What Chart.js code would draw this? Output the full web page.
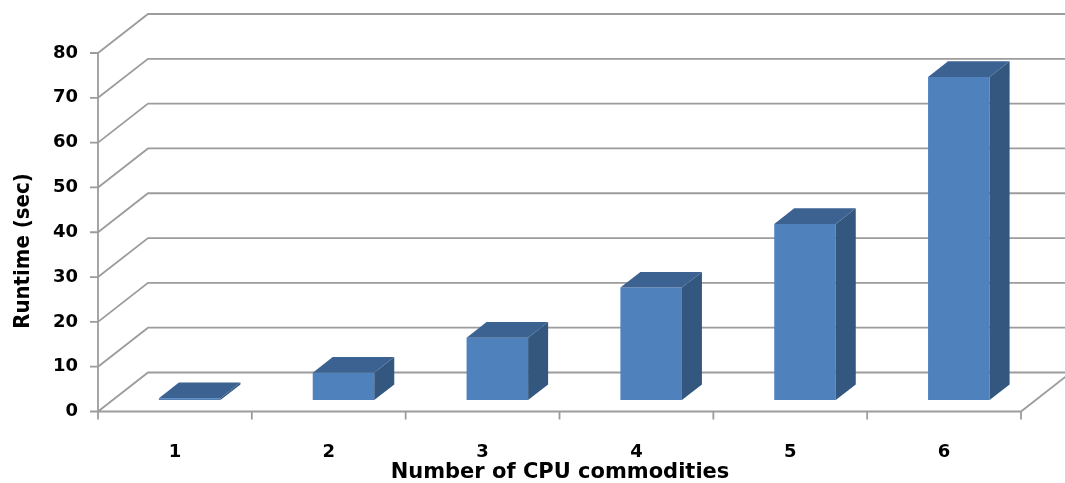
<!DOCTYPE html>
<html>
<head>
<meta charset="utf-8">
<script src="https://cdn.jsdelivr.net/npm/chart.js@4"></script>
<style>
  html, body { margin: 0; padding: 0; background: #fff; }
  #wrap { width: 1065px; height: 483px; }
</style>
</head>
<body>
<div id="wrap"><canvas id="runtimeChart" width="1065" height="483"></canvas></div>
<script>
const categories = ["1", "2", "3", "4", "5", "6"];
const runtimes = [0.4, 6.1, 13.9, 25.1, 39.3, 72.1];
const yTicks = [0, 10, 20, 30, 40, 50, 60, 70, 80];

// depth of the 3d box (front -> back wall) and where the bars sit in it
const DEPTH_X = 50, DEPTH_Y = -39;
const BAR_START = 0.295, BAR_DEPTH = 0.4;
const GRID_COLOR = "#9c9c9c";
const FONT = "'DejaVu Sans', sans-serif";

const depth3d = {
  id: "depth3d",
  beforeDatasetsDraw(chart) {
    const ctx = chart.ctx;
    const area = chart.chartArea;
    const y = chart.scales.y;
    const x = chart.scales.x;
    const y0 = y.getPixelForValue(0);

    ctx.save();
    ctx.strokeStyle = GRID_COLOR;
    ctx.lineWidth = 1.8;
    ctx.beginPath();
    yTicks.forEach(v => {
      const py = y.getPixelForValue(v);
      ctx.moveTo(area.left, py);
      ctx.lineTo(area.left + DEPTH_X, py + DEPTH_Y);
      ctx.lineTo(chart.width + 10, py + DEPTH_Y);
      // tick mark
      ctx.moveTo(area.left - 8, py);
      ctx.lineTo(area.left, py);
    });
    // front axis + floor
    ctx.moveTo(area.left, y.getPixelForValue(yTicks[yTicks.length - 1]));
    ctx.lineTo(area.left, y0);
    ctx.lineTo(area.right, y0);
    ctx.lineTo(area.right + DEPTH_X, y0 + DEPTH_Y);
    for (let i = 0; i <= categories.length; i++) {
      const px = x.getPixelForValue(i - 0.5);
      ctx.moveTo(px, y0);
      ctx.lineTo(px, y0 + 8);
    }
    ctx.stroke();
    ctx.restore();

    ctx.save();
    ctx.translate(DEPTH_X * BAR_START, DEPTH_Y * BAR_START);
  },
  afterDatasetsDraw(chart) {
    const ctx = chart.ctx;
    ctx.restore();
    const ox = DEPTH_X * BAR_START, oy = DEPTH_Y * BAR_START;
    const dx = DEPTH_X * BAR_DEPTH, dy = DEPTH_Y * BAR_DEPTH;
    const meta = chart.getDatasetMeta(0);
    ctx.save();
    meta.data.forEach(bar => {
      const l = bar.x - bar.width / 2 + ox;
      const r = bar.x + bar.width / 2 + ox;
      const t = bar.y + oy;
      const b = bar.base + oy;
      ctx.fillStyle = "#34577f";
      ctx.beginPath();
      ctx.moveTo(r, t);
      ctx.lineTo(r + dx, t + dy);
      ctx.lineTo(r + dx, b + dy);
      ctx.lineTo(r, b);
      ctx.closePath();
      ctx.fill();
      ctx.fillStyle = "#3c6291";
      ctx.beginPath();
      ctx.moveTo(l, t);
      ctx.lineTo(l + dx, t + dy);
      ctx.lineTo(r + dx, t + dy);
      ctx.lineTo(r, t);
      ctx.closePath();
      ctx.fill();
    });
    ctx.restore();
  },
  afterDraw(chart) {
    const ctx = chart.ctx;
    ctx.save();
    ctx.fillStyle = "#000";
    ctx.textAlign = "center";
    ctx.font = "bold 21px " + FONT;
    ctx.textBaseline = "alphabetic";
    ctx.fillText("Number of CPU commodities", 560, 478);
    ctx.translate(23, 251);
    ctx.rotate(-Math.PI / 2);
    ctx.textBaseline = "middle";
    ctx.font = "bold 22px 'DejaVu Sans Condensed', " + FONT;
    ctx.fillText("Runtime (sec)", 0, 0);
    ctx.restore();
  }
};

new Chart(document.getElementById("runtimeChart").getContext("2d"), {
  type: "bar",
  data: {
    labels: categories,
    datasets: [{
      data: runtimes,
      backgroundColor: "#4f81bd",
      borderWidth: 0,
      barPercentage: 0.4,
      categoryPercentage: 1
    }]
  },
  options: {
    responsive: false,
    animation: false,
    layout: { padding: { top: 53, right: 44, left: 0, bottom: 0 } },
    plugins: { legend: { display: false }, tooltip: { enabled: false } },
    scales: {
      x: {
        offset: true,
        grid: { display: false, drawTicks: false },
        border: { display: false },
        ticks: { color: "#000", padding: 30, font: { family: FONT, size: 18, weight: "bold" } },
        afterFit: s => { s.height = 71.5; }
      },
      y: {
        min: 0,
        max: 80,
        grid: { display: false, drawTicks: false },
        border: { display: false },
        ticks: { stepSize: 10, color: "#000", padding: 20, font: { family: FONT, size: 18, weight: "bold" } },
        afterFit: s => { s.width = 98; }
      }
    }
  },
  plugins: [depth3d]
});
</script>
</body>
</html>
